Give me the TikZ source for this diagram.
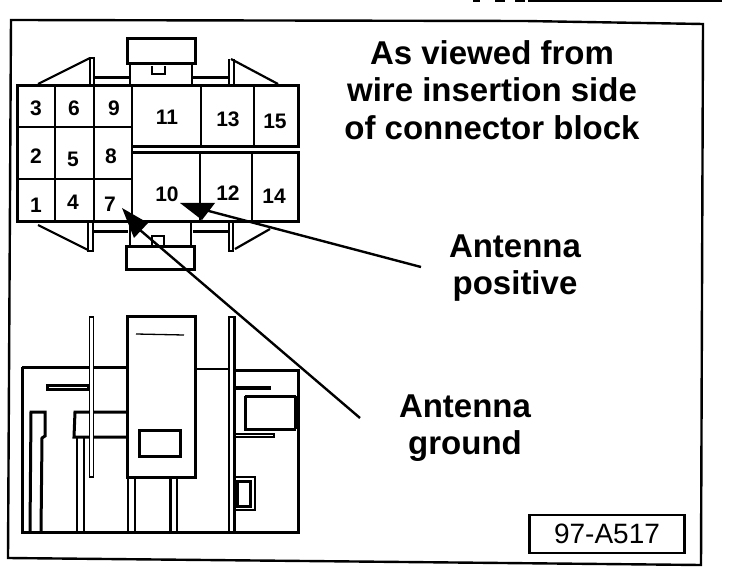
\documentclass[tikz,border=0pt]{standalone}
\usepackage{fontspec}
\setmainfont{Liberation Sans}
\begin{document}
\begin{tikzpicture}[x=1pt,y=-1pt,line join=miter,
  frameline/.style={line width=2.4pt},
  heavy/.style={line width=3pt},
  med/.style={line width=2.2pt},
  thin line/.style={line width=1.3pt},
  pointer/.style={line width=2.4pt},
  head/.style={fill=black,draw=none},
  num/.style={font=\bfseries\fontsize{21}{21}\selectfont,inner sep=0pt},
  callout/.style={font=\bfseries\fontsize{33}{37.5}\selectfont,align=center,inner sep=0pt},
  code/.style={font=\fontsize{28}{28}\selectfont,inner sep=0pt}]
\useasboundingbox (0,0) rectangle (736,580);
\fill[white] (0,0) rectangle (736,580);
% frame
\draw[frameline] (11,20) -- (525,21) -- (703,24) -- (701,565) -- (8,558) -- cycle;
\draw[line width=1.2pt] (473,1) -- (480,1) (495,1) -- (505,1) (515,1) -- (525,1) (528,1) -- (722,1);
% connector block, left grid
\draw[heavy] (132,147) -- (298,147) -- (298,86) -- (17,86) -- (17,222) -- (132,222);
\draw[med] (132,86) -- (132,222);
\draw[med] (55,86) -- (55,222);
\draw[med] (94,86) -- (94,222);
\draw[med] (17,127) -- (132,127);
\draw[med] (17,179) -- (132,179);
\draw[heavy] (133,153) -- (298,153) -- (298,222) -- (132,222);
\draw[med] (201,86) -- (201,147);
\draw[med] (254,86) -- (254,147);
\draw[med] (200,153) -- (200,222);
\draw[med] (252,153) -- (252,222);
% top tab
\draw[heavy] (127,39) rectangle (195,64);
\draw[med] (130,64) -- (130,85) (192,64) -- (192,85);
\draw[thin line] (152,66) -- (152,74) -- (165,74) -- (165,66);
\draw[med] (38,84) -- (90,58);
\draw[med] (89,58) -- (95,58) (90,58) -- (90,85) (94,58) -- (94,85);
\draw[med] (231,59) -- (278,84);
\draw[med] (229,59) -- (229,85) (234,59) -- (234,85);
\draw[heavy] (95,78) -- (130,78) (192,78) -- (229,78);
% bottom tab
\draw[heavy] (126,246) rectangle (194,269);
\draw[med] (130,222) -- (130,246) (191,222) -- (191,246);
\draw[thin line] (152,246) -- (152,236) -- (164,236) -- (164,246);
\draw[med] (38,225) -- (88,250);
\draw[med] (88,223) -- (88,251) -- (93,251) -- (93,223);
\draw[med] (270,229) -- (235,249);
\draw[med] (229,223) -- (229,251) -- (233,251) -- (233,223);
\draw[heavy] (94,231) -- (128,231) (193,231) -- (229,231);
% cell numbers
\node[num] (n3) at (36,108) {3};
\node[num] (n6) at (74,108) {6};
\node[num] (n9) at (114,108) {9};
\node[num] (n2) at (36,156) {2};
\node[num] (n5) at (73,159) {5};
\node[num] (n8) at (111,156) {8};
\node[num] (n1) at (36,205) {1};
\node[num] (n4) at (73,202) {4};
\node[num] (n7) at (110,204) {7};
\node[num] (n11) at (167,117) {11};
\node[num] (n13) at (228,119) {13};
\node[num] (n15) at (275,121) {15};
\node[num] (n10) at (167,194) {10};
\node[num] (n12) at (228,193) {12};
\node[num] (n14) at (274,196) {14};
% pointers
\coordinate (ptip) at (180,203);
\coordinate (pend) at (421,267);
\coordinate (gtip) at (122,208);
\coordinate (gend) at (360,418);
\fill[head] (ptip) -- (215,203) -- (202,220) -- cycle;
\draw[pointer] (205,210) -- (pend);
\fill[head] (gtip) -- (148,223) -- (134,238) -- cycle;
\draw[pointer] (140,230) -- (gend);
% side view
\draw[heavy] (22,367) -- (127,367);
\draw[thin line] (195,369) -- (229,369);
\draw[heavy] (234,370) -- (298,370) -- (298,532) -- (22,532) -- (22,367);
\draw[heavy] (30,532) -- (31,412) -- (45,412) -- (45,436) -- (42,438) -- (41,532);
\draw[heavy] (47,385) rectangle (88,389);
\draw[heavy] (127,412) -- (75,412) -- (74,437) -- (127,437);
\draw[med] (77,437) -- (77,532) (84,437) -- (84,532);
\draw[line width=1.5pt,fill=white] (89.5,317) rectangle (93.5,477);
\draw[heavy,fill=white] (127,316) rectangle (195,477);
\draw[thin line] (136,334) -- (184,335);
\draw[heavy] (139,430) rectangle (180,456);
\draw[med] (128,477) -- (128,532) (135,477) -- (135,532);
\draw[heavy] (170,477) -- (170,532);
\draw[med] (177,477) -- (177,532);
\draw[med,fill=white] (229,317) rectangle (234.5,532);
\draw[line width=4pt] (235,388) -- (271,388);
\draw[heavy] (245,396) -- (296,396);
\draw[heavy] (245,396) -- (245,429) -- (296,429);
\draw[line width=3.5pt] (296,396) -- (296,429);
\draw[med] (235,434) rectangle (274,437);
\draw[med] (235,477) -- (255,477) -- (255,510) -- (235,510);
\draw[heavy] (237,481) rectangle (250,506);
% labels
\node[callout] (title) at (492,90) {As viewed from\\wire insertion side\\of connector block};
\node[callout] (pos) at (515,268) {Antenna\\positive};
\node[callout] (gnd) at (465,428) {Antenna\\ground};
\node[draw,line width=2.4pt,minimum width=155pt,minimum height=38pt,code] (fig) at (607,534) {97-A517};
\end{tikzpicture}
\end{document}
